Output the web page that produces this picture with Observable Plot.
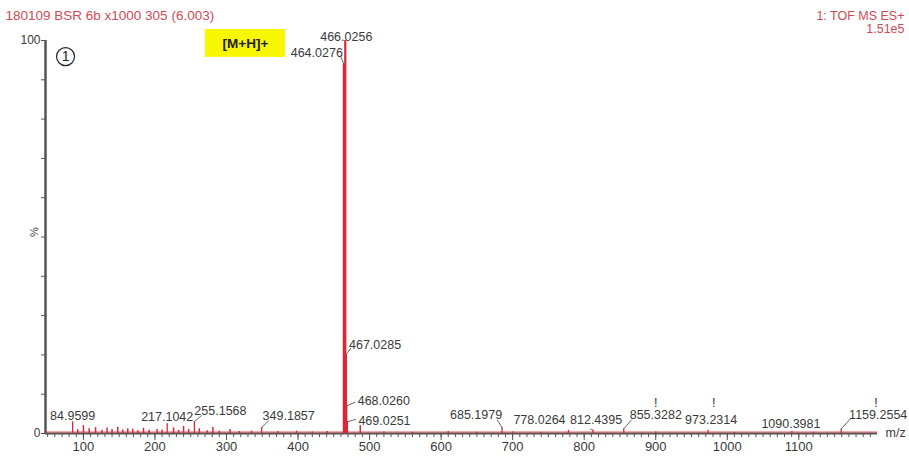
<!DOCTYPE html>
<html><head><meta charset="utf-8">
<script src="https://cdn.jsdelivr.net/npm/d3@7"></script>
<script src="https://cdn.jsdelivr.net/npm/@observablehq/plot@0.6"></script>
<style>
html,body{margin:0;padding:0;background:#fff;}
#chart{width:909px;height:461px;}
</style></head><body><div id="chart"></div>
<script>
// ---- data ----
const peakMz = [84.9599, 217.1042, 255.1568, 349.1857, 464.0276, 466.0256, 467.0285, 468.0260, 469.0251, 685.1979, 778.0264, 812.4395, 855.3282, 973.2314, 1090.3981, 1159.2554];
const peakIntensity = [3.0, 2.5, 3.0, 1.5, 94, 100, 20, 7, 3, 1.5, 0.8, 0.8, 1.2, 0.8, 0.5, 1.2];
const minorMz = [92, 100, 108, 117, 126, 133, 140, 148, 155, 162, 169, 176, 184, 192, 203, 210, 226, 233, 240, 247, 262, 273, 281, 290, 305, 318, 335, 372, 398, 420, 441, 465.03, 487, 520, 560, 610, 650, 700, 740, 900, 1010, 1120];
const minorIntensity = [1.0, 2.0, 1.2, 1.5, 0.8, 1.4, 1.0, 1.6, 0.9, 1.2, 1.1, 0.7, 1.3, 0.8, 1.0, 0.9, 1.4, 0.8, 1.8, 1.0, 1.2, 0.7, 1.5, 0.6, 1.0, 0.5, 0.6, 0.5, 0.6, 0.4, 0.5, 19, 2.0, 0.4, 0.3, 0.5, 0.3, 0.4, 0.3, 0.4, 0.3, 0.3];
const flagMz = [900, 981, 1208];
const xTickValues = [100, 200, 300, 400, 500, 600, 700, 800, 900, 1000, 1100];
const yTickValues = [0, 10, 20, 30, 40, 50, 60, 70, 80, 90, 100];
const titleText = "180109 BSR 6b x1000 305 (6.003)";
const instrumentText = "1: TOF MS ES+";
const baseIntensityText = "1.51e5";
const ionLabel = "[M+H]+";
const panelLabel = "1";
const yLabel = "%";
const xLabel = "m/z";

// ---- build tables ----
const peaks = peakMz.map((mz, i) => ({mz, intensity: peakIntensity[i], label: mz.toFixed(4)}));
const minor = minorMz.map((mz, i) => ({mz, intensity: minorIntensity[i]}));

// label layout (pixel nudges, leader lines in data units)
const layout = {
  "84.9599":  {anchor: "middle", dx: 0,   dy: -2},
  "217.1042": {anchor: "middle", dx: 0,   dy: -3},
  "255.1568": {anchor: "middle", dx: 26,  dy: -7,  lx: 10, ly: 1.6},
  "349.1857": {anchor: "middle", dx: 27,  dy: -8,  lx: 10, ly: 1.8},
  "464.0276": {anchor: "end",    dx: -1,  dy: -7,  lx: -5, ly: 2.2},
  "466.0256": {anchor: "middle", dx: 1,   dy: 0},
  "467.0285": {anchor: "start",  dx: 3,   dy: -6,  lx: 7,  ly: 1.8},
  "468.0260": {anchor: "start",  dx: 11,  dy: -1,  lx: 12, ly: 1.0},
  "469.0251": {anchor: "start",  dx: 11,  dy: 3,   lx: 12, ly: 0.6},
  "685.1979": {anchor: "middle", dx: -26, dy: -9,  lx: -7, ly: 2.0},
  "778.0264": {anchor: "middle", dx: -29, dy: -6},
  "812.4395": {anchor: "middle", dx: 3,   dy: -6,  lx: -4, ly: 0.4},
  "855.3282": {anchor: "middle", dx: 32,  dy: -10, lx: 11, ly: 2.3},
  "973.2314": {anchor: "middle", dx: 3,   dy: -6},
  "1090.3981":{anchor: "middle", dx: -1,  dy: -4},
  "1159.2554":{anchor: "middle", dx: 37,  dy: -10, lx: 13, ly: 2.5}
};
const leaders = peaks.filter(p => layout[p.label].lx !== undefined).map(p => ({
  x1: p.mz, y1: p.intensity, x2: p.mz + layout[p.label].lx, y2: p.intensity + layout[p.label].ly
}));

const red = "#d8283a";
const ink = "#3a3a3a";
const font = "Liberation Sans, Arial, sans-serif";

const labelMarks = peaks.map(p => {
  const l = layout[p.label];
  return Plot.text([p], {x: "mz", y: "intensity", text: "label", textAnchor: l.anchor, lineAnchor: "bottom",
    dx: l.dx, dy: l.dy, fontSize: 12.5, fill: ink, fontFamily: font});
});

const annotation = {mz: 326.5, y: 99.2, x1: 270.5, x2: 382.5, y1: 95.7, y2: 102.8};
const panel = {mz: 75, y: 95.9};

const chart = Plot.plot({
  width: 909, height: 461,
  marginLeft: 45, marginRight: 32, marginTop: 40, marginBottom: 28,
  style: {fontFamily: font, fontSize: "12px", color: ink, background: "#fff"},
  x: {domain: [47, 1210], label: null},
  y: {domain: [0, 100], label: null},
  marks: [
    // minor x ticks
    Plot.axisX({ticks: d3.range(50, 1210, 10), tickSize: 4, tickFormat: () => "", stroke: "#555", label: null}),
    // major x ticks
    Plot.axisX({ticks: xTickValues, tickSize: 7, tickPadding: 1, tickFormat: d => String(d), fontSize: 13, fill: ink, stroke: "#555", label: null}),
    Plot.axisY({ticks: yTickValues, tickSize: 4, tickPadding: 1, fontSize: 12, stroke: "#555", fill: ink,
      tickFormat: d => (d === 0 || d === 100) ? String(d) : "", label: null}),
    Plot.ruleX([47], {y1: 0, y2: 100, stroke: "#555", strokeWidth: 2.5}),
    Plot.ruleY([0], {stroke: "#555", strokeWidth: 2}),
    Plot.ruleY([0], {stroke: red, strokeWidth: 1, dy: -1.5, strokeOpacity: 0.8}),
    // spectrum
    Plot.ruleX(minor, {x: "mz", y1: 0, y2: "intensity", stroke: red, strokeWidth: 1.5}),
    Plot.ruleX(peaks, {x: "mz", y1: 0, y2: "intensity", stroke: red, strokeWidth: d => d.intensity > 10 ? 2.2 : 1.3}),
    // leaders and labels
    Plot.link(leaders, {x1: "x1", y1: "y1", x2: "x2", y2: "y2", stroke: "#555", strokeWidth: 0.9}),
    ...labelMarks,
    Plot.text(flagMz, {x: d => d, y: 0, text: () => "!", dy: -31, fontSize: 12.5, fill: "#333"}),
    // annotation box
    Plot.rect([annotation], {x1: "x1", x2: "x2", y1: "y1", y2: "y2", fill: "#f7f700"}),
    Plot.text([annotation], {x: "mz", y: "y", text: () => ionLabel, fontWeight: "bold", fontSize: 13.5, fill: "#222"}),
    // panel number
    Plot.dot([panel], {x: "mz", y: "y", r: 9, stroke: "#222", strokeWidth: 1.2, fill: "#fff"}),
    Plot.text([panel], {x: "mz", y: "y", text: () => panelLabel, fontSize: 14, fill: "#222"}),
    // axis labels
    Plot.text([yLabel], {frameAnchor: "left", text: d => d, dx: -11, rotate: -90, fontSize: 11, fill: ink}),
    Plot.text([xLabel], {frameAnchor: "bottom-right", text: d => d, textAnchor: "start", dx: 8, dy: 3, fontSize: 12.5, fill: ink}),
    // header texts
    Plot.text([titleText], {frameAnchor: "top-left", text: d => d, textAnchor: "start", dx: -40, dy: -30, fontSize: 13.5, fill: "#d04a55"}),
    Plot.text([instrumentText], {frameAnchor: "top-right", text: d => d, textAnchor: "end", dx: 27, dy: -29, fontSize: 12.5, fill: "#d04a55"}),
    Plot.text([baseIntensityText], {frameAnchor: "top-right", text: d => d, textAnchor: "end", dx: 27, dy: -16, fontSize: 12.5, fill: "#d04a55"})
  ]
});
document.getElementById("chart").appendChild(chart);
</script></body></html>
